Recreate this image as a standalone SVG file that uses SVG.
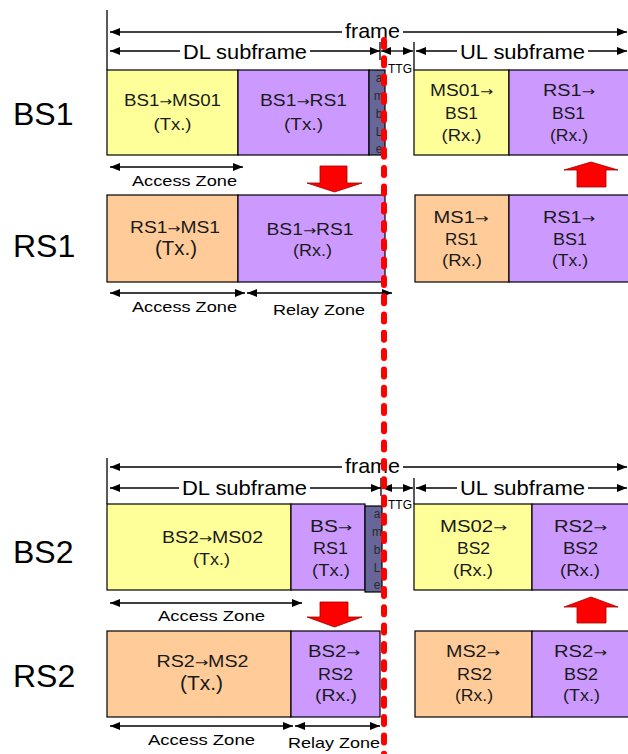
<svg xmlns="http://www.w3.org/2000/svg" width="628" height="754" viewBox="0 0 628 754">
<style>
text{font-family:"Liberation Sans",Arial,sans-serif;fill:#000}
.h{font-size:21px}
.ttg{font-size:13px}
.z{font-size:15px;text-anchor:middle}
.b{font-size:16px;text-anchor:middle;fill:#1a1a1a}
.bb{font-size:20px;text-anchor:middle;fill:#1a1a1a}
.lab{font-size:32px}
.p{font-size:12px;text-anchor:middle;fill:#2a2a2a}
.a{font-family:"DejaVu Sans",sans-serif;font-size:13px}
.ln{stroke:#000;stroke-width:1.3;fill:none}
.ar{stroke:#000;stroke-width:1.3;fill:none;marker-start:url(#ah);marker-end:url(#ah)}
.box{stroke:#000;stroke-width:1.2}
.y{fill:#FFFF99}.pu{fill:#CC99FF}.o{fill:#FFCC99}.pr{fill:#666699}
.red{fill:#FF0000;stroke:#A00000;stroke-width:0.8}
.wb{fill:#fff}
</style>
<defs>
<marker id="ah" markerUnits="userSpaceOnUse" markerWidth="10" markerHeight="8" refX="10" refY="4" orient="auto-start-reverse">
<path d="M0,0 L10,4 L0,8 z" fill="#000"/>
</marker>
</defs>
<rect width="628" height="754" fill="#fff"/>

<g id="connectors">
<line class="ln" x1="107" y1="10" x2="107" y2="70"/>
<line class="ln" x1="380" y1="42" x2="380" y2="60"/>
<line class="ln" x1="414" y1="42" x2="414" y2="70"/>
<line class="ar" x1="110" y1="32" x2="627" y2="32"/>
<line class="ar" x1="110" y1="51" x2="380" y2="51"/>
<line class="ar" x1="381" y1="51" x2="413" y2="51"/>
<line class="ar" x1="416" y1="51" x2="627" y2="51"/>
<line class="ar" x1="110" y1="167" x2="243" y2="167"/>
<line class="ar" x1="110" y1="293" x2="245" y2="293"/>
<line class="ar" x1="247" y1="293" x2="392" y2="293"/>
<line class="ln" x1="107" y1="458" x2="107" y2="504"/>
<line class="ln" x1="381" y1="478" x2="381" y2="496"/>
<line class="ln" x1="414" y1="478" x2="414" y2="504"/>
<line class="ar" x1="110" y1="467" x2="627" y2="467"/>
<line class="ar" x1="110" y1="488" x2="381" y2="488"/>
<line class="ar" x1="382" y1="488" x2="413" y2="488"/>
<line class="ar" x1="416" y1="488" x2="627" y2="488"/>
<line class="ar" x1="110" y1="603" x2="302" y2="603"/>
<line class="ar" x1="110" y1="726" x2="293" y2="726"/>
<line class="ar" x1="295" y1="726" x2="380" y2="726"/>
<polygon class="red" points="320,166 347,166 347,183 362,183 334.5,192 307,183 320,183"/>
<polygon class="red" points="591,162 618,170 606,170 606,187 577,187 577,170 564,170"/>
<polygon class="red" points="320,602 348,602 348,617 362,617 334.5,627 307,617 320,617"/>
<polygon class="red" points="591,597 618,607 606,607 606,623 577,623 577,607 564,607"/>
</g>

<g id="dimension-labels">
<rect class="wb" x="342" y="22" width="61" height="18"/>
<text class="h" x="345" y="38" textLength="55" lengthAdjust="spacingAndGlyphs">frame</text>
<rect class="wb" x="180" y="42" width="130" height="18"/>
<text class="h" x="183" y="58.5" textLength="124" lengthAdjust="spacingAndGlyphs">DL subframe</text>
<rect class="wb" x="457" y="42" width="131" height="18"/>
<text class="h" x="460" y="58.5" textLength="125" lengthAdjust="spacingAndGlyphs">UL subframe</text>
<text class="ttg" x="388" y="73" textLength="24" lengthAdjust="spacingAndGlyphs">TTG</text>
<text class="z" x="184.5" y="186" textLength="105" lengthAdjust="spacingAndGlyphs">Access Zone</text>
<text class="z" x="184.5" y="312" textLength="105" lengthAdjust="spacingAndGlyphs">Access Zone</text>
<text class="z" x="319" y="315" textLength="92" lengthAdjust="spacingAndGlyphs">Relay Zone</text>
<rect class="wb" x="342" y="457" width="61" height="18"/>
<text class="h" x="345" y="473" textLength="55" lengthAdjust="spacingAndGlyphs">frame</text>
<rect class="wb" x="179" y="479" width="131" height="18"/>
<text class="h" x="182" y="495" textLength="125" lengthAdjust="spacingAndGlyphs">DL subframe</text>
<rect class="wb" x="457" y="479" width="131" height="18"/>
<text class="h" x="460" y="495" textLength="125" lengthAdjust="spacingAndGlyphs">UL subframe</text>
<text class="ttg" x="388" y="509" textLength="24" lengthAdjust="spacingAndGlyphs">TTG</text>
<text class="z" x="211.5" y="621" textLength="107" lengthAdjust="spacingAndGlyphs">Access Zone</text>
<text class="z" x="201.5" y="745" textLength="107" lengthAdjust="spacingAndGlyphs">Access Zone</text>
<text class="z" x="334" y="748" textLength="92" lengthAdjust="spacingAndGlyphs">Relay Zone</text>
</g>

<g id="label-BS1"><text class="lab" x="13" y="125">BS1</text></g>
<g id="label-RS1"><text class="lab" x="13" y="257">RS1</text></g>
<g id="label-BS2"><text class="lab" x="13" y="563">BS2</text></g>
<g id="label-RS2"><text class="lab" x="13" y="687">RS2</text></g>

<g id="bs1-ms01">
<rect class="box y" x="107" y="70" width="131" height="85"/>
<text class="b" x="172.5" y="106" textLength="97" lengthAdjust="spacingAndGlyphs">BS1<tspan class="a">→</tspan>MS01</text>
<text class="b" x="172.5" y="130" textLength="38" lengthAdjust="spacingAndGlyphs">(Tx.)</text>
</g>
<g id="bs1-rs1-tx">
<rect class="box pu" x="238" y="70" width="131" height="85"/>
<text class="b" x="303.5" y="106" textLength="87" lengthAdjust="spacingAndGlyphs">BS1<tspan class="a">→</tspan>RS1</text>
<text class="b" x="303.5" y="130" textLength="39" lengthAdjust="spacingAndGlyphs">(Tx.)</text>
</g>
<g id="preamble-1">
<rect class="box pr" x="369" y="70" width="16" height="85"/>
<text class="p" x="379" y="82">a</text>
<text class="p" x="379" y="100">m</text>
<text class="p" x="379" y="118">b</text>
<text class="p" x="379" y="136">L</text>
<text class="p" x="379" y="153">e</text>
</g>
<g id="ms01-bs1">
<rect class="box y" x="414" y="70" width="95" height="85"/>
<text class="b" x="461.5" y="96" textLength="63" lengthAdjust="spacingAndGlyphs">MS01<tspan class="a">→</tspan></text>
<text class="b" x="461.5" y="119" textLength="33" lengthAdjust="spacingAndGlyphs">BS1</text>
<text class="b" x="461.5" y="141" textLength="40" lengthAdjust="spacingAndGlyphs">(Rx.)</text>
</g>
<g id="rs1-bs1-rx">
<rect class="box pu" x="509" y="70" width="131" height="85"/>
<text class="b" x="569" y="96" textLength="52" lengthAdjust="spacingAndGlyphs">RS1<tspan class="a">→</tspan></text>
<text class="b" x="568.5" y="119" textLength="33" lengthAdjust="spacingAndGlyphs">BS1</text>
<text class="b" x="569" y="141" textLength="38" lengthAdjust="spacingAndGlyphs">(Rx.)</text>
</g>

<g id="rs1-ms1">
<rect class="box o" x="107" y="195" width="131" height="87"/>
<text class="b" x="175" y="233" textLength="90" lengthAdjust="spacingAndGlyphs">RS1<tspan class="a">→</tspan>MS1</text>
<text class="bb" x="176" y="255" textLength="42" lengthAdjust="spacingAndGlyphs">(Tx.)</text>
</g>
<g id="bs1-rs1-rx">
<rect class="box pu" x="238" y="195" width="147" height="87"/>
<text class="b" x="310" y="235" textLength="87" lengthAdjust="spacingAndGlyphs">BS1<tspan class="a">→</tspan>RS1</text>
<text class="b" x="312.5" y="256" textLength="39" lengthAdjust="spacingAndGlyphs">(Rx.)</text>
</g>
<g id="ms1-rs1">
<rect class="box o" x="415" y="195" width="94" height="87"/>
<text class="b" x="461" y="223" textLength="55" lengthAdjust="spacingAndGlyphs">MS1<tspan class="a">→</tspan></text>
<text class="b" x="461.5" y="245" textLength="33" lengthAdjust="spacingAndGlyphs">RS1</text>
<text class="b" x="462" y="266" textLength="40" lengthAdjust="spacingAndGlyphs">(Rx.)</text>
</g>
<g id="rs1-bs1-tx">
<rect class="box pu" x="509" y="195" width="131" height="87"/>
<text class="b" x="569" y="223" textLength="52" lengthAdjust="spacingAndGlyphs">RS1<tspan class="a">→</tspan></text>
<text class="b" x="570" y="245" textLength="34" lengthAdjust="spacingAndGlyphs">BS1</text>
<text class="b" x="570" y="266" textLength="36" lengthAdjust="spacingAndGlyphs">(Tx.)</text>
</g>

<g id="bs2-ms02">
<rect class="box y" x="107" y="504" width="184" height="86"/>
<text class="b" x="212.5" y="543" textLength="101" lengthAdjust="spacingAndGlyphs">BS2<tspan class="a">→</tspan>MS02</text>
<text class="b" x="211.5" y="565" textLength="37" lengthAdjust="spacingAndGlyphs">(Tx.)</text>
</g>
<g id="bs-rs1-tx">
<rect class="box pu" x="291" y="504" width="74" height="86"/>
<text class="b" x="331" y="532" textLength="42" lengthAdjust="spacingAndGlyphs">BS<tspan class="a">→</tspan></text>
<text class="b" x="330.5" y="554" textLength="35" lengthAdjust="spacingAndGlyphs">RS1</text>
<text class="b" x="331" y="576" textLength="38" lengthAdjust="spacingAndGlyphs">(Tx.)</text>
</g>
<g id="preamble-2">
<rect class="box pr" x="365" y="506" width="17" height="86"/>
<text class="p" x="377" y="518">a</text>
<text class="p" x="377" y="536">m</text>
<text class="p" x="377" y="554">b</text>
<text class="p" x="377" y="572">L</text>
<text class="p" x="377" y="589">e</text>
</g>
<g id="ms02-bs2">
<rect class="box y" x="414" y="504" width="118" height="86"/>
<text class="b" x="473.5" y="532" textLength="67" lengthAdjust="spacingAndGlyphs">MS02<tspan class="a">→</tspan></text>
<text class="b" x="473.5" y="554" textLength="33" lengthAdjust="spacingAndGlyphs">BS2</text>
<text class="b" x="473" y="576" textLength="40" lengthAdjust="spacingAndGlyphs">(Rx.)</text>
</g>
<g id="rs2-bs2-rx">
<rect class="box pu" x="532" y="504" width="108" height="86"/>
<text class="b" x="580.5" y="532" textLength="53" lengthAdjust="spacingAndGlyphs">RS2<tspan class="a">→</tspan></text>
<text class="b" x="580.5" y="554" textLength="35" lengthAdjust="spacingAndGlyphs">BS2</text>
<text class="b" x="580" y="576" textLength="40" lengthAdjust="spacingAndGlyphs">(Rx.)</text>
</g>

<g id="rs2-ms2">
<rect class="box o" x="107" y="631" width="184" height="86"/>
<text class="b" x="202.5" y="667" textLength="92" lengthAdjust="spacingAndGlyphs">RS2<tspan class="a">→</tspan>MS2</text>
<text class="bb" x="201.5" y="690" textLength="43" lengthAdjust="spacingAndGlyphs">(Tx.)</text>
</g>
<g id="bs2-rs2-rx">
<rect class="box pu" x="291" y="631" width="89" height="86"/>
<text class="b" x="334" y="657" textLength="52" lengthAdjust="spacingAndGlyphs">BS2<tspan class="a">→</tspan></text>
<text class="b" x="335.5" y="680" textLength="35" lengthAdjust="spacingAndGlyphs">RS2</text>
<text class="b" x="336" y="701" textLength="42" lengthAdjust="spacingAndGlyphs">(Rx.)</text>
</g>
<g id="ms2-rs2">
<rect class="box o" x="415" y="631" width="117" height="86"/>
<text class="b" x="473" y="657" textLength="54" lengthAdjust="spacingAndGlyphs">MS2<tspan class="a">→</tspan></text>
<text class="b" x="474.5" y="680" textLength="35" lengthAdjust="spacingAndGlyphs">RS2</text>
<text class="b" x="474" y="701" textLength="38" lengthAdjust="spacingAndGlyphs">(Rx.)</text>
</g>
<g id="rs2-bs2-tx">
<rect class="box pu" x="532" y="631" width="108" height="86"/>
<text class="b" x="580.5" y="657" textLength="53" lengthAdjust="spacingAndGlyphs">RS2<tspan class="a">→</tspan></text>
<text class="b" x="581" y="680" textLength="34" lengthAdjust="spacingAndGlyphs">BS2</text>
<text class="b" x="581.5" y="701" textLength="37" lengthAdjust="spacingAndGlyphs">(Tx.)</text>
</g>

<g id="boundary">
<line x1="384" y1="40" x2="384" y2="760" stroke="#FF0000" stroke-width="6" stroke-linecap="round" stroke-dasharray="7 11.3"/>
</g>
</svg>
